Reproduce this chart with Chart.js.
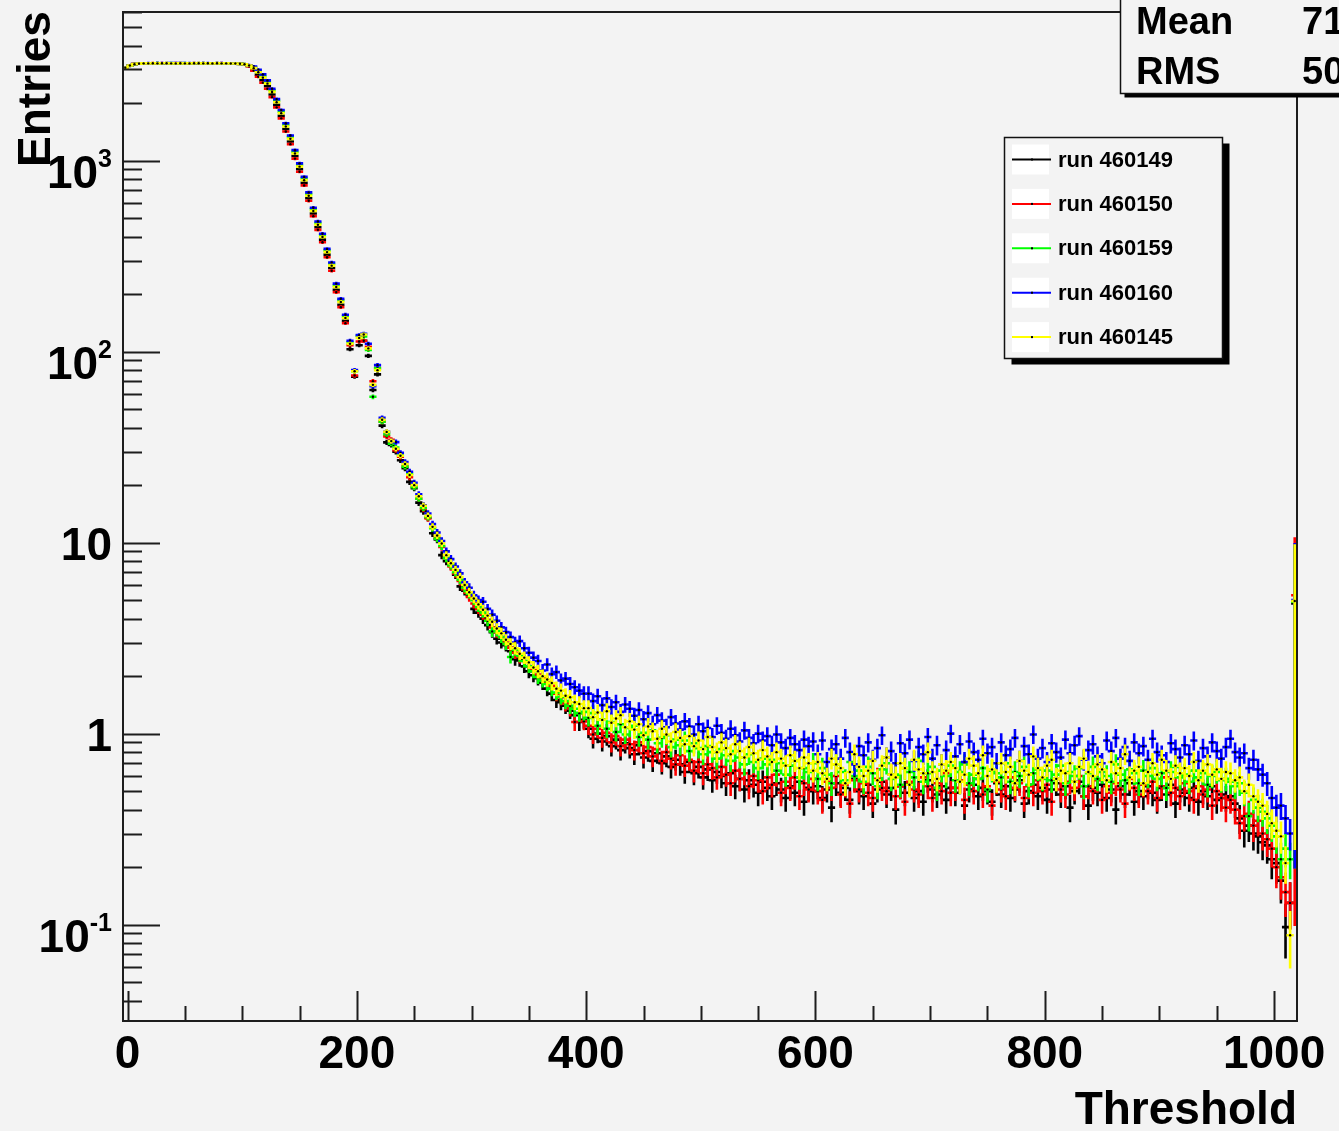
<!DOCTYPE html>
<html>
<head>
<meta charset="utf-8">
<title>Threshold</title>
<script src="https://cdn.jsdelivr.net/npm/chart.js@4.4.1/dist/chart.umd.min.js"></script>
<style>
html,body{margin:0;padding:0;background:#f3f3f3;overflow:hidden;}
canvas{display:block;}
</style>
</head>
<body>
<canvas id="thresholdChart" width="1339" height="1131"></canvas>
<script>
// ==================== DATA ====================
// histogram binning of the Threshold axis
const binLow = -4;
const binWidth = 4;
const nBins = 256;

const runLabels = ["run 460149", "run 460150", "run 460159", "run 460160", "run 460145"];

const run460149 = [
    3040,3140,3200,3225,3228,3232,3230,3234,3229,3233,3231,3227,3235,3230,3228,3232,3234,3231,3229,3230,3233,3228,3231,3225,3222,3212,
    3190,3130,3000,2820,2640,2455,2220,1960,1715,1465,1260,1058,902,766,635,529,448,386,322,274,211,176,145,103,74,
    108,114,95,63,76,41,
    33.5,32.5,29.9,27.0,24.5,20.8,19.3,16.2,14.6,13.5,11.2,10.4,8.6,8.0,7.6,6.8,5.9,5.6,5.3,4.5,
    4.3,4.0,3.7,3.4,3.14,3.0,2.9,2.7,2.45,2.42,2.25,2.12,2.02,1.95,1.85,1.72,1.62,1.5,1.46,1.4,1.32,1.25,1.15,1.18,
    1.06,0.94,1.00,0.91,0.97,0.86,0.93,0.82,0.89,0.84,
    0.78,0.87,0.75,0.81,0.72,0.79,0.70,0.76,0.67,0.73,
    0.69,0.63,0.71,0.62,0.67,0.59,0.65,0.57,0.63,0.60,
    0.55,0.62,0.53,0.58,0.51,0.57,0.54,0.49,0.56,0.52,
    0.47,0.55,0.51,0.46,0.53,0.49,0.56,0.44,0.52,0.50,
    0.53,0.46,0.51,0.41,0.55,0.49,0.52,0.45,0.58,0.50,
    0.47,0.54,0.43,0.51,0.56,0.48,0.52,0.40,0.53,0.49,
    0.55,0.46,0.50,0.44,0.57,0.51,0.48,0.53,0.45,0.52,
    0.49,0.56,0.42,0.51,0.54,0.47,0.52,0.50,0.44,0.55,
    0.48,0.53,0.46,0.51,0.57,0.43,0.50,0.54,0.47,0.52,
    0.45,0.51,0.55,0.48,0.53,0.41,0.50,0.56,0.47,0.42,
    0.52,0.49,0.54,0.46,0.51,0.40,0.53,0.48,0.55,0.44,
    0.50,0.47,0.53,0.49,0.45,0.52,0.48,0.54,0.43,0.51,
    0.49,0.46,0.52,0.44,0.50,0.47,0.53,0.45,0.48,0.46,
    0.47,0.43,0.36,0.31,0.33,0.30,0.29,0.27,0.26,0.22,
    0.21,0.17,0.097,0.13,
    4.8
];

const run460150 = [
    3050,3150,3205,3222,3230,3228,3233,3231,3236,3230,3229,3234,3232,3227,3231,3235,3229,3233,3230,3231,3228,3234,3229,3227,3223,3214,
    3192,3120,2960,2750,2560,2380,2150,1900,1665,1420,1220,1025,875,742,616,512,434,374,312,265,205,171,141,108,75,
    113,114,106,70,82,43,
    36,34.5,30.5,28.2,25.2,22.0,19.8,17.0,15.0,13.4,12.0,10.6,9.5,8.3,7.5,6.9,6.3,5.7,5.2,4.8,
    4.5,4.2,3.95,3.6,3.4,3.2,3.0,2.82,2.65,2.52,2.4,2.26,2.15,2.04,1.95,1.85,1.78,1.62,1.55,1.44,1.36,1.15,1.28,1.16,
    1.10,0.99,1.06,0.95,1.01,0.90,0.97,0.86,0.93,0.88,
    0.82,0.90,0.79,0.85,0.76,0.83,0.72,0.80,0.74,0.69,
    0.77,0.68,0.73,0.64,0.71,0.62,0.69,0.66,0.59,0.67,
    0.61,0.55,0.64,0.58,0.62,0.53,0.60,0.57,0.50,0.59,
    0.54,0.61,0.49,0.56,0.52,0.59,0.47,0.55,0.51,0.58,
    0.50,0.45,0.56,0.52,0.60,0.48,0.54,0.43,0.57,0.51,
    0.55,0.49,0.46,0.58,0.52,0.50,0.61,0.47,0.53,0.44,
    0.56,0.51,0.48,0.59,0.53,0.46,0.55,0.50,0.62,0.49,
    0.52,0.57,0.45,0.54,0.50,0.58,0.48,0.53,0.42,0.56,
    0.51,0.47,0.59,0.52,0.55,0.46,0.53,0.49,0.57,0.50,
    0.54,0.44,0.58,0.51,0.48,0.56,0.52,0.60,0.47,0.53,
    0.50,0.57,0.45,0.53,0.49,0.55,0.51,0.43,0.58,0.52,
    0.48,0.54,0.50,0.56,0.46,0.53,0.59,0.49,0.52,0.47,
    0.55,0.50,0.45,0.53,0.48,0.51,0.42,0.50,0.46,0.41,
    0.45,0.40,0.34,0.37,0.38,0.33,0.35,0.30,0.28,0.25,
    0.20,0.177,0.148,0.13,
    5.3
];

const run460159 = [
    3055,3145,3198,3224,3231,3229,3232,3236,3230,3228,3233,3231,3229,3234,3230,3232,3228,3235,3231,3229,3232,3230,3228,3227,3221,3213,
    3194,3152,3080,2950,2770,2580,2335,2060,1805,1540,1325,1112,948,806,668,556,471,406,339,288,222,186,153,112,79,
    121,120,102,58,82,43,
    37,33,31.5,28.8,25.0,22.9,19.5,17.0,15.2,13.6,11.9,10.5,9.6,8.3,7.6,7.0,6.4,5.8,5.4,5.0,
    4.6,4.3,3.9,3.43,3.45,3.2,2.95,2.52,2.75,2.55,2.4,2.25,2.12,1.98,1.9,1.82,1.72,1.64,1.56,1.48,1.40,1.35,1.28,1.30,
    1.21,1.28,1.10,1.19,1.06,1.15,1.02,1.12,0.99,1.07,
    1.10,0.96,1.01,0.93,1.04,0.89,0.95,0.98,0.85,0.93,
    0.87,0.92,0.81,0.89,0.84,0.78,0.86,0.80,0.74,0.83,
    0.77,0.72,0.81,0.75,0.69,0.78,0.71,0.66,0.74,0.69,
    0.73,0.64,0.70,0.61,0.68,0.72,0.59,0.66,0.63,0.70,
    0.58,0.66,0.61,0.55,0.69,0.63,0.57,0.71,0.60,0.64,
    0.56,0.67,0.62,0.53,0.65,0.70,0.58,0.61,0.54,0.66,
    0.63,0.59,0.72,0.56,0.62,0.67,0.52,0.64,0.60,0.68,
    0.57,0.63,0.69,0.55,0.61,0.58,0.66,0.51,0.64,0.62,
    0.59,0.70,0.56,0.63,0.60,0.67,0.54,0.62,0.65,0.58,
    0.64,0.57,0.61,0.68,0.55,0.63,0.60,0.66,0.53,0.62,
    0.67,0.58,0.63,0.60,0.56,0.69,0.61,0.57,0.65,0.62,
    0.55,0.64,0.60,0.66,0.58,0.62,0.52,0.63,0.67,0.59,
    0.61,0.56,0.64,0.59,0.62,0.54,0.60,0.63,0.57,0.58,
    0.56,0.53,0.55,0.49,0.37,0.45,0.41,0.39,0.36,0.33,
    0.29,0.22,0.25,0.22,
    4.9
];

const run460160 = [
    3065,3155,3202,3226,3229,3233,3231,3237,3234,3231,3238,3236,3240,3235,3233,3237,3232,3236,3234,3230,3236,3233,3231,3229,3226,3218,
    3198,3160,3110,2990,2830,2630,2380,2100,1840,1570,1355,1135,968,822,682,567,480,414,345,293,227,189,156,114,80,
    122,124,110,66,85,45,
    38,34,33.6,29.5,26.4,23.5,20.6,17.9,15.7,14.2,12.5,11.3,10.2,9.0,8.2,7.5,6.9,6.2,5.8,5.3,
    5.0,4.9,4.5,4.2,3.9,3.6,3.4,3.2,3.0,3.05,2.8,2.65,2.5,2.4,2.14,2.3,2.05,2.1,1.9,1.94,1.82,1.75,1.68,1.62,
    1.62,1.48,1.57,1.41,1.53,1.38,1.46,1.30,1.42,1.35,
    1.24,1.33,1.19,1.28,1.12,1.25,1.17,1.08,1.22,1.13,
    1.05,1.16,1.09,0.99,1.12,1.03,1.07,0.96,1.10,1.01,
    0.94,1.06,0.98,0.91,1.04,0.95,0.89,1.00,0.92,0.97,
    0.87,0.99,0.90,0.84,0.95,0.88,0.82,0.93,0.86,0.91,
    0.78,0.92,0.71,0.83,0.88,0.74,0.95,0.80,0.69,0.86,
    0.77,0.90,0.73,0.84,0.98,0.75,0.81,0.70,0.89,0.79,
    0.93,0.72,0.85,0.78,0.96,0.74,0.87,0.69,0.82,1.00,
    0.76,0.88,0.71,0.91,0.80,0.73,0.94,0.79,0.85,0.70,
    0.90,0.77,0.83,0.95,0.72,0.86,0.78,0.99,0.74,0.84,
    0.71,0.89,0.80,0.75,0.93,0.79,0.87,0.97,0.73,0.82,
    0.88,0.76,0.70,0.92,0.81,0.95,0.74,0.85,0.72,0.90,
    0.79,0.86,0.73,0.94,0.80,0.77,0.71,0.89,0.83,0.75,
    0.87,0.78,0.92,0.72,0.84,0.76,0.90,0.81,0.74,0.85,
    0.94,0.80,0.75,0.79,0.66,0.73,0.65,0.61,0.55,0.46,
    0.41,0.42,0.36,0.30,
    5.0
];

const run460145 = [
    3060,3150,3200,3220,3230,3230,3235,3230,3232,3236,3230,3228,3234,3231,3229,3233,3236,3230,3232,3228,3235,3231,3230,3226,3224,3215,
    3195,3150,3050,2900,2720,2530,2290,2020,1770,1510,1300,1090,930,790,655,545,462,398,332,282,218,182,150,110,79,
    118,123,104,67,80,44,
    38,34,31,28.5,25.8,22.6,20.0,17.5,15.6,13.8,12.1,10.9,9.9,8.6,7.8,7.2,6.6,6.0,5.5,5.1,
    4.75,4.45,4.15,3.85,3.55,3.35,3.1,2.95,2.8,2.62,2.5,2.36,2.22,2.12,2.0,1.92,1.84,1.72,1.68,1.58,1.55,1.46,1.43,1.36,
    1.36,1.22,1.29,1.18,1.31,1.14,1.20,1.25,1.08,1.16,
    1.05,1.12,0.98,1.09,1.03,0.94,1.06,0.99,0.91,1.02,
    0.95,0.88,0.97,0.86,0.92,0.83,0.96,0.85,0.80,0.90,
    0.84,0.78,0.88,0.81,0.75,0.85,0.79,0.73,0.82,0.76,
    0.71,0.80,0.74,0.68,0.77,0.72,0.66,0.75,0.70,0.64,
    0.71,0.62,0.58,0.74,0.69,0.66,0.55,0.63,0.78,0.67,
    0.60,0.64,0.72,0.57,0.68,0.75,0.61,0.59,0.70,0.66,
    0.54,0.73,0.65,0.62,0.80,0.63,0.58,0.69,0.64,0.71,
    0.66,0.56,0.61,0.74,0.68,0.62,0.77,0.60,0.65,0.57,
    0.70,0.63,0.67,0.55,0.72,0.64,0.61,0.76,0.66,0.59,
    0.68,0.73,0.58,0.64,0.62,0.70,0.56,0.67,0.74,0.63,
    0.60,0.69,0.65,0.57,0.71,0.62,0.66,0.78,0.59,0.64,
    0.67,0.55,0.63,0.70,0.61,0.73,0.64,0.58,0.68,0.62,
    0.66,0.60,0.71,0.57,0.64,0.69,0.61,0.65,0.58,0.63,
    0.62,0.57,0.59,0.50,0.54,0.47,0.44,0.42,0.38,0.34,
    0.31,0.29,0.21,0.088,
    4.95
];

// errors: sqrt(N) on the weighted entries, the last bin has its own (large) error
const entriesPerCount = 0.009;
const lastBinErr = [4.6, 5.2, 4.7, 4.8, 4.7];

const xTicks = [0, 200, 400, 600, 800, 1000];
const yTicks = [0.1, 1, 10, 100, 1000];
const yTickBase = ["10", "1", "10", "10", "10"];
const yTickExp = ["-1", "", "", "2", "3"];

const statNames = ["Mean", "RMS"];
const statValues = ["71", "50"];

// ==================== STYLE ====================
const runColors = ["#000000", "#ff0000", "#00ff00", "#0000ff", "#ffff00"];
const bgColor = "#f3f3f3";
const axisColor = "#1c1c1c";
const FONT = '"Liberation Sans", Arial, Helvetica, sans-serif';

const binCenters = Array.from({length: nBins}, (_, i) => binLow + binWidth * (i + 0.5));

function toPoints(values, k){
    return values.map((v, i) => ({
        x: binCenters[i],
        y: v,
        err: (i === nBins - 1) ? lastBinErr[k] : Math.sqrt(v * entriesPerCount)
    }));
}

const allRuns = [run460149, run460150, run460159, run460160, run460145];

// ==================== PLUGIN (ROOT look) ====================
const rootPlugin = {
    id: 'rootLook',
    beforeDraw(chart){
        const ctx = chart.ctx;
        ctx.save();
        ctx.fillStyle = bgColor;
        ctx.fillRect(0, 0, chart.width, chart.height);
        ctx.restore();
    },
    // error bars of one run, drawn just before its markers
    beforeDatasetDraw(chart, args){
        const ds = chart.data.datasets[args.index];
        const xs = chart.scales.x, ys = chart.scales.y;
        const a = chart.chartArea;
        const ctx = chart.ctx;
        ctx.save();
        ctx.beginPath();
        ctx.rect(a.left, a.top, a.right - a.left, a.bottom - a.top);
        ctx.clip();
        ctx.strokeStyle = ds.borderColor;
        ctx.lineWidth = 2.6;
        ctx.lineCap = "square";
        ctx.beginPath();
        ds.data.forEach(p => {
            const px = xs.getPixelForValue(p.x);
            const py = ys.getPixelForValue(p.y);
            const x0 = xs.getPixelForValue(p.x - binWidth / 2);
            const x1 = xs.getPixelForValue(p.x + binWidth / 2);
            const lo = Math.max(p.y - p.err, ys.min);
            const hi = p.y + p.err;
            ctx.moveTo(x0, py); ctx.lineTo(x1, py);
            ctx.moveTo(px, ys.getPixelForValue(lo)); ctx.lineTo(px, ys.getPixelForValue(hi));
        });
        ctx.stroke();
        ctx.restore();
    },
    afterDatasetsDraw(chart){
        const ctx = chart.ctx;
        const a = chart.chartArea;
        const xs = chart.scales.x, ys = chart.scales.y;
        ctx.save();

        // frame
        ctx.strokeStyle = axisColor;
        ctx.lineWidth = 2;
        ctx.strokeRect(a.left, a.top, a.right - a.left, a.bottom - a.top);

        // x ticks
        ctx.beginPath();
        for(let v = 0; v <= xs.max; v += 50){
            const px = Math.round(xs.getPixelForValue(v)) + 0.5;
            const len = (v % 200 === 0) ? 30 : 15;
            ctx.moveTo(px, a.bottom); ctx.lineTo(px, a.bottom - len);
        }
        // y ticks (log)
        for(let k = -2; k <= 3; k++){
            for(let m = 1; m <= 9; m++){
                const v = m * Math.pow(10, k);
                if(v < ys.min || v > ys.max) continue;
                const py = Math.round(ys.getPixelForValue(v)) + 0.5;
                const len = (m === 1) ? 37 : 19;
                ctx.moveTo(a.left, py); ctx.lineTo(a.left + len, py);
            }
        }
        ctx.stroke();

        // tick labels
        ctx.fillStyle = "#000";
        ctx.font = "bold 46px " + FONT;
        ctx.textAlign = "center";
        ctx.textBaseline = "alphabetic";
        xTicks.forEach(v => ctx.fillText(String(v), xs.getPixelForValue(v), 1068));

        const labelRight = 112;
        yTicks.forEach((v, i) => {
            const py = ys.getPixelForValue(v);
            if(yTickExp[i] === ""){
                ctx.font = "bold 46px " + FONT;
                ctx.textAlign = "right";
                ctx.fillText(yTickBase[i], labelRight, py + 17);
            }else{
                ctx.font = "bold 25px " + FONT;
                ctx.textAlign = "right";
                const ew = ctx.measureText(yTickExp[i]).width;
                ctx.fillText(yTickExp[i], labelRight, py + 6);
                ctx.font = "bold 46px " + FONT;
                ctx.fillText(yTickBase[i], labelRight - ew, py + 27);
            }
        });

        // axis titles
        ctx.font = "bold 46px " + FONT;
        ctx.textAlign = "right";
        ctx.fillText("Threshold", a.right, 1124);
        ctx.save();
        ctx.translate(50, 167);
        ctx.rotate(-Math.PI / 2);
        ctx.textAlign = "left";
        ctx.fillText("Entries", 0, 0);
        ctx.restore();

        drawLegend(ctx);
        drawStats(ctx);
        ctx.restore();
    }
};

function drawLegend(ctx){
    const bx = 1004.5, by = 137.5, bw = 218, bh = 221;
    ctx.fillStyle = "#000";
    ctx.fillRect(bx + 7, by + 6, bw, bh);
    ctx.fillStyle = bgColor;
    ctx.fillRect(bx, by, bw, bh);
    ctx.strokeStyle = "#111";
    ctx.lineWidth = 1.5;
    ctx.strokeRect(bx, by, bw, bh);

    ctx.font = "bold 22px " + FONT;
    ctx.textAlign = "left";
    ctx.textBaseline = "middle";
    runLabels.forEach((lab, i) => {
        const cy = 159.5 + i * 44.4;
        ctx.fillStyle = "#fff";
        ctx.fillRect(1012, cy - 15, 37, 30);
        ctx.strokeStyle = runColors[i];
        ctx.lineWidth = 2;
        ctx.beginPath();
        ctx.moveTo(1012, cy); ctx.lineTo(1051, cy);
        ctx.stroke();
        ctx.fillStyle = "#000";
        ctx.fillRect(1031, cy - 1, 2, 2);
        ctx.fillText(lab, 1058, cy + 1);
    });
}

function drawStats(ctx){
    const bx = 1120.5, by = -5, bw = 260, bh = 98.5;
    ctx.fillStyle = "#000";
    ctx.fillRect(bx + 4, by + 4, bw, bh);
    ctx.fillStyle = bgColor;
    ctx.fillRect(bx, by, bw, bh);
    ctx.strokeStyle = "#111";
    ctx.lineWidth = 1.5;
    ctx.strokeRect(bx, by, bw, bh);

    ctx.fillStyle = "#000";
    ctx.font = "bold 38px " + FONT;
    ctx.textAlign = "left";
    ctx.textBaseline = "alphabetic";
    statNames.forEach((n, i) => {
        const base = 34 + i * 50;
        ctx.fillText(n, 1136, base);
        ctx.fillText(statValues[i], 1302, base);
    });
}

// ==================== CHART ====================
function initChart(){
    const ctx = document.getElementById('thresholdChart').getContext('2d');
    new Chart(ctx, {
        type: 'scatter',
        data: {
            datasets: allRuns.map((vals, k) => ({
                label: runLabels[k],
                data: toPoints(vals, k),
                borderColor: runColors[k],
                backgroundColor: "#000",
                pointBackgroundColor: "#000",
                pointBorderWidth: 0,
                pointRadius: 1.2,
                pointHoverRadius: 0,
                showLine: false,
                order: allRuns.length - 1 - k   // last run painted on top, as ROOT does
            }))
        },
        options: {
            responsive: false,
            animation: false,
            devicePixelRatio: 1,
            events: [],
            layout: { padding: { left: 123, right: 42, top: 12, bottom: 110 } },
            plugins: { legend: { display: false }, tooltip: { enabled: false } },
            scales: {
                x: { type: 'linear', min: binLow, max: binLow + binWidth * nBins, display: false },
                y: { type: 'logarithmic', min: 0.0313, max: 6000, display: false }
            }
        },
        plugins: [rootPlugin]
    });
}

window.addEventListener('load', initChart);
</script>
</body>
</html>
